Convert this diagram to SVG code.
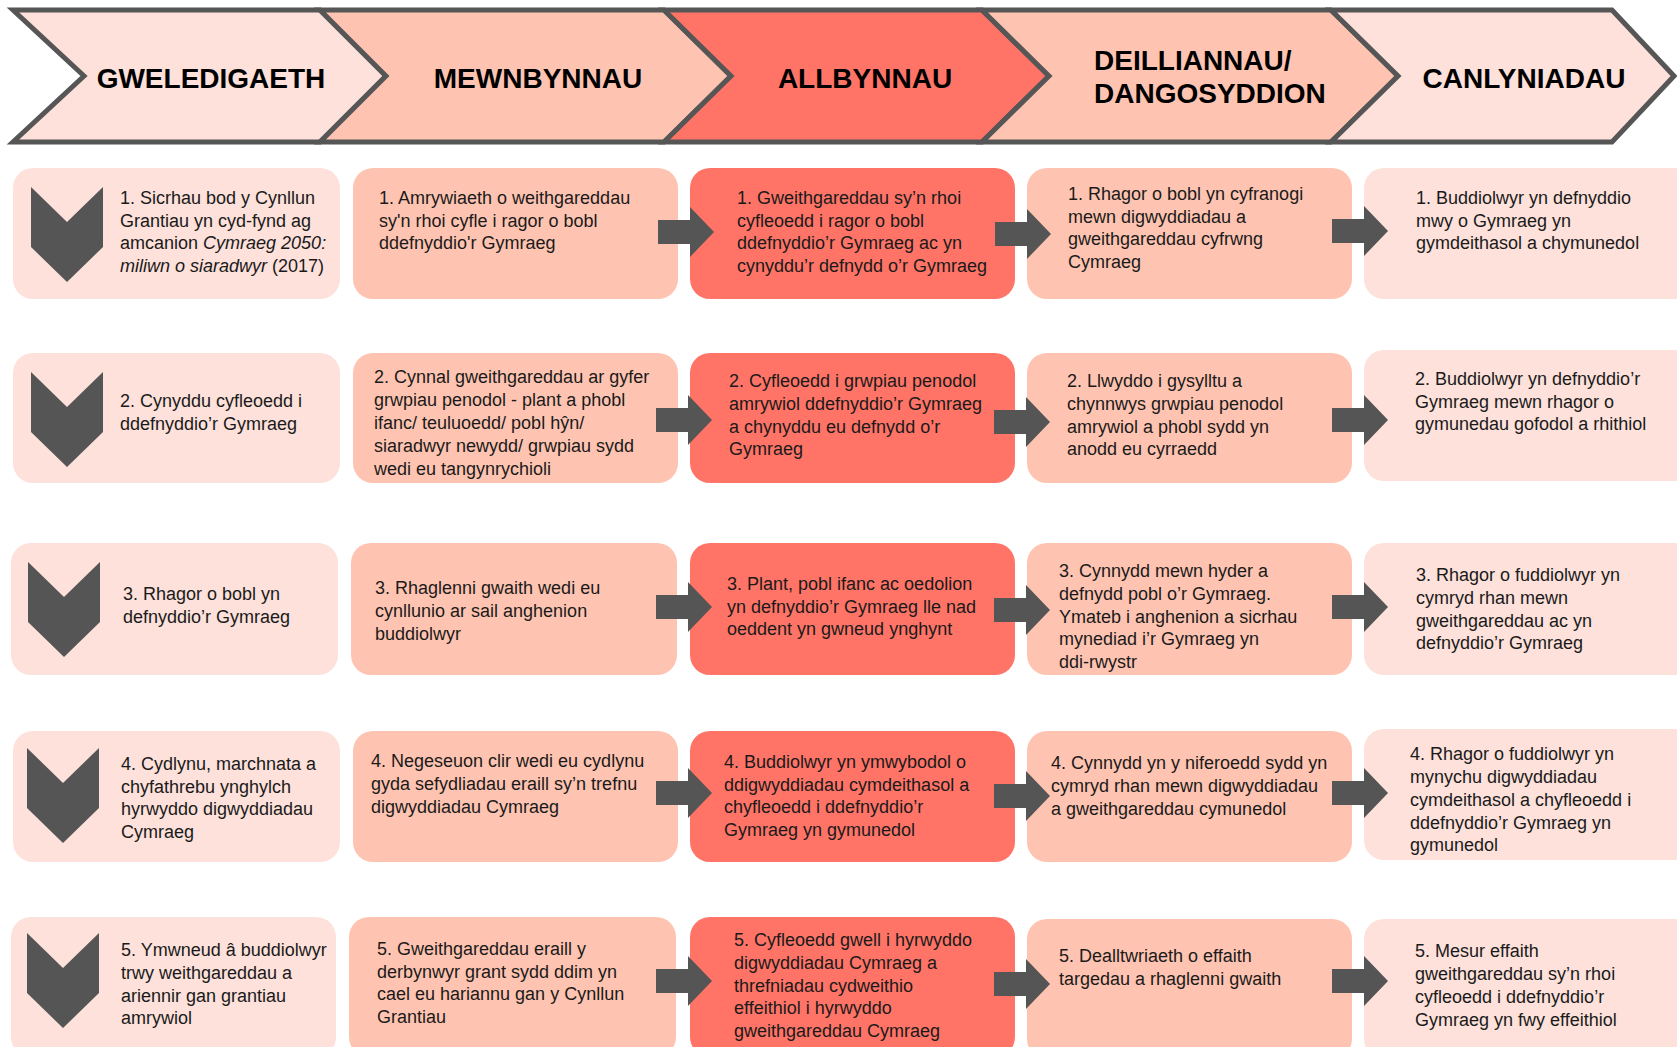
<svg xmlns="http://www.w3.org/2000/svg" width="1677" height="1047" viewBox="0 0 1677 1047">
<style>
.bg{fill:#ffffff}
.chev{stroke:#565656;stroke-width:5;stroke-linejoin:miter}
.p1{fill:#FDE1DA}
.p2{fill:#FFC4B1}
.p3{fill:#FF7467}
.h{font-family:"Liberation Sans",Arial,sans-serif;font-weight:bold;font-size:28px;fill:#000}
.t{font-family:"Liberation Sans",Arial,sans-serif;font-size:18px;fill:#1a1a1a}
.i{font-style:italic}
.ic{fill:#555555}
</style>
<defs>
<path id="arr" d="M0,-12 H32 V-25 L56,0 L32,25 V12 H0 Z"/>
<path id="down" d="M0,0 L36,35 L72,0 V60 L36,95 L0,60 Z"/>
</defs>
<rect class="bg" x="0" y="0" width="1677" height="1047"/>

<g id="header">
<g id="h-gweledigaeth">
<polygon class="chev p1" points="13,10 320,10 386,76 320,142 13,142 84,76"/>
<text class="h" x="211" y="88" text-anchor="middle">GWELEDIGAETH</text>
</g>
<g id="h-mewnbynnau">
<polygon class="chev p2" points="320,10 664,10 731,76 664,142 320,142 386,76"/>
<text class="h" x="538" y="88" text-anchor="middle">MEWNBYNNAU</text>
</g>
<g id="h-allbynnau">
<polygon class="chev p3" points="664,10 982,10 1049,76 982,142 664,142 731,76"/>
<text class="h" x="865" y="88" text-anchor="middle">ALLBYNNAU</text>
</g>
<g id="h-deilliannau">
<polygon class="chev p2" points="982,10 1331,10 1398,76 1331,142 982,142 1049,76"/>
<text class="h" x="1094" y="70">DEILLIANNAU/</text>
<text class="h" x="1094" y="103">DANGOSYDDION</text>
</g>
<g id="h-canlyniadau">
<polygon class="chev p1" points="1331,10 1612,10 1674,76 1612,142 1331,142 1398,76"/>
<text class="h" x="1524" y="88" text-anchor="middle">CANLYNIADAU</text>
</g>
</g>

<!-- Row 1 -->
<g id="r1c1">
<rect class="p1" x="13" y="168" width="327" height="131" rx="20"/>
<use href="#down" class="ic" x="31" y="187"/>
<text class="t"><tspan x="120" y="204">1. Sicrhau bod y Cynllun</tspan><tspan x="120" y="226.5">Grantiau yn cyd-fynd ag</tspan><tspan x="120" y="249">amcanion </tspan><tspan class="i">Cymraeg 2050:</tspan><tspan x="120" y="271.5" class="i">miliwn o siaradwyr</tspan><tspan> (2017)</tspan></text>
</g>
<g id="r1c2">
<rect class="p2" x="353" y="168" width="325" height="131" rx="20"/>
<text class="t"><tspan x="379" y="204">1. Amrywiaeth o weithgareddau</tspan><tspan x="379" y="226.5">sy'n rhoi cyfle i ragor o bobl</tspan><tspan x="379" y="249">ddefnyddio'r Gymraeg</tspan></text>
</g>
<g id="r1c3">
<rect class="p3" x="690" y="168" width="325" height="131" rx="20"/>
<text class="t"><tspan x="737" y="204">1. Gweithgareddau sy’n rhoi</tspan><tspan x="737" y="226.5">cyfleoedd i ragor o bobl</tspan><tspan x="737" y="249">ddefnyddio’r Gymraeg ac yn</tspan><tspan x="737" y="271.5">cynyddu’r defnydd o’r Gymraeg</tspan></text>
</g>
<g id="r1c4">
<rect class="p2" x="1027" y="168" width="325" height="131" rx="20"/>
<text class="t"><tspan x="1068" y="200">1. Rhagor o bobl yn cyfranogi</tspan><tspan x="1068" y="222.5">mewn digwyddiadau a</tspan><tspan x="1068" y="245">gweithgareddau cyfrwng</tspan><tspan x="1068" y="267.5">Cymraeg</tspan></text>
</g>
<g id="r1c5">
<rect class="p1" x="1364" y="168" width="330" height="131" rx="20"/>
<text class="t"><tspan x="1416" y="204">1. Buddiolwyr yn defnyddio</tspan><tspan x="1416" y="226.5">mwy o Gymraeg yn</tspan><tspan x="1416" y="249">gymdeithasol a chymunedol</tspan></text>
</g>

<!-- Row 2 -->
<g id="r2c1">
<rect class="p1" x="13" y="353" width="327" height="130" rx="20"/>
<use href="#down" class="ic" x="31" y="372"/>
<text class="t"><tspan x="120" y="407">2. Cynyddu cyfleoedd i</tspan><tspan x="120" y="429.5">ddefnyddio’r Gymraeg</tspan></text>
</g>
<g id="r2c2">
<rect class="p2" x="353" y="353" width="325" height="130" rx="20"/>
<text class="t"><tspan x="374" y="383">2. Cynnal gweithgareddau ar gyfer</tspan><tspan x="374" y="406">grwpiau penodol - plant a phobl</tspan><tspan x="374" y="429">ifanc/ teuluoedd/ pobl hŷn/</tspan><tspan x="374" y="452">siaradwyr newydd/ grwpiau sydd</tspan><tspan x="374" y="475">wedi eu tangynrychioli</tspan></text>
</g>
<g id="r2c3">
<rect class="p3" x="690" y="353" width="325" height="130" rx="20"/>
<text class="t"><tspan x="729" y="387">2. Cyfleoedd i grwpiau penodol</tspan><tspan x="729" y="410">amrywiol ddefnyddio’r Gymraeg</tspan><tspan x="729" y="432.5">a chynyddu eu defnydd o’r</tspan><tspan x="729" y="455">Gymraeg</tspan></text>
</g>
<g id="r2c4">
<rect class="p2" x="1027" y="353" width="325" height="130" rx="20"/>
<text class="t"><tspan x="1067" y="387">2. Llwyddo i gysylltu a</tspan><tspan x="1067" y="410">chynnwys grwpiau penodol</tspan><tspan x="1067" y="432.5">amrywiol a phobl sydd yn</tspan><tspan x="1067" y="455">anodd eu cyrraedd</tspan></text>
</g>
<g id="r2c5">
<rect class="p1" x="1364" y="350" width="330" height="131" rx="20"/>
<text class="t"><tspan x="1415" y="385">2. Buddiolwyr yn defnyddio’r</tspan><tspan x="1415" y="407.5">Gymraeg mewn rhagor o</tspan><tspan x="1415" y="430">gymunedau gofodol a rhithiol</tspan></text>
</g>

<!-- Row 3 -->
<g id="r3c1">
<rect class="p1" x="11" y="543" width="327" height="132" rx="20"/>
<use href="#down" class="ic" x="28" y="562"/>
<text class="t"><tspan x="123" y="600">3. Rhagor o bobl yn</tspan><tspan x="123" y="622.5">defnyddio’r Gymraeg</tspan></text>
</g>
<g id="r3c2">
<rect class="p2" x="351" y="543" width="326" height="132" rx="20"/>
<text class="t"><tspan x="375" y="594">3. Rhaglenni gwaith wedi eu</tspan><tspan x="375" y="617">cynllunio ar sail anghenion</tspan><tspan x="375" y="640">buddiolwyr</tspan></text>
</g>
<g id="r3c3">
<rect class="p3" x="690" y="543" width="325" height="132" rx="20"/>
<text class="t"><tspan x="727" y="590">3. Plant, pobl ifanc ac oedolion</tspan><tspan x="727" y="612.5">yn defnyddio’r Gymraeg lle nad</tspan><tspan x="727" y="635">oeddent yn gwneud ynghynt</tspan></text>
</g>
<g id="r3c4">
<rect class="p2" x="1027" y="543" width="325" height="132" rx="20"/>
<text class="t"><tspan x="1059" y="577">3. Cynnydd mewn hyder a</tspan><tspan x="1059" y="600">defnydd pobl o’r Gymraeg.</tspan><tspan x="1059" y="622.5">Ymateb i anghenion a sicrhau</tspan><tspan x="1059" y="645">mynediad i’r Gymraeg yn</tspan><tspan x="1059" y="668">ddi-rwystr</tspan></text>
</g>
<g id="r3c5">
<rect class="p1" x="1364" y="543" width="330" height="132" rx="20"/>
<text class="t"><tspan x="1416" y="581">3. Rhagor o fuddiolwyr yn</tspan><tspan x="1416" y="604">cymryd rhan mewn</tspan><tspan x="1416" y="626.5">gweithgareddau ac yn</tspan><tspan x="1416" y="649">defnyddio’r Gymraeg</tspan></text>
</g>

<!-- Row 4 -->
<g id="r4c1">
<rect class="p1" x="13" y="731" width="327" height="131" rx="20"/>
<use href="#down" class="ic" x="27" y="748"/>
<text class="t"><tspan x="121" y="770">4. Cydlynu, marchnata a</tspan><tspan x="121" y="792.5">chyfathrebu ynghylch</tspan><tspan x="121" y="815">hyrwyddo digwyddiadau</tspan><tspan x="121" y="837.5">Cymraeg</tspan></text>
</g>
<g id="r4c2">
<rect class="p2" x="353" y="731" width="325" height="131" rx="20"/>
<text class="t"><tspan x="371" y="767">4. Negeseuon clir wedi eu cydlynu</tspan><tspan x="371" y="790">gyda sefydliadau eraill sy’n trefnu</tspan><tspan x="371" y="812.5">digwyddiadau Cymraeg</tspan></text>
</g>
<g id="r4c3">
<rect class="p3" x="690" y="731" width="325" height="131" rx="20"/>
<text class="t"><tspan x="724" y="768">4. Buddiolwyr yn ymwybodol o</tspan><tspan x="724" y="790.5">ddigwyddiadau cymdeithasol a</tspan><tspan x="724" y="813">chyfleoedd i ddefnyddio’r</tspan><tspan x="724" y="835.5">Gymraeg yn gymunedol</tspan></text>
</g>
<g id="r4c4">
<rect class="p2" x="1027" y="731" width="325" height="131" rx="20"/>
<text class="t"><tspan x="1051" y="769">4. Cynnydd yn y niferoedd sydd yn</tspan><tspan x="1051" y="792">cymryd rhan mewn digwyddiadau</tspan><tspan x="1051" y="815">a gweithgareddau cymunedol</tspan></text>
</g>
<g id="r4c5">
<rect class="p1" x="1364" y="729" width="330" height="131" rx="20"/>
<text class="t"><tspan x="1410" y="760">4. Rhagor o fuddiolwyr yn</tspan><tspan x="1410" y="783">mynychu digwyddiadau</tspan><tspan x="1410" y="806">cymdeithasol a chyfleoedd i</tspan><tspan x="1410" y="828.5">ddefnyddio’r Gymraeg yn</tspan><tspan x="1410" y="851">gymunedol</tspan></text>
</g>

<!-- Row 5 -->
<g id="r5c1">
<rect class="p1" x="11" y="917" width="325" height="140" rx="20"/>
<use href="#down" class="ic" x="27" y="933"/>
<text class="t"><tspan x="121" y="956">5. Ymwneud â buddiolwyr</tspan><tspan x="121" y="979">trwy weithgareddau a</tspan><tspan x="121" y="1001.5">ariennir gan grantiau</tspan><tspan x="121" y="1024">amrywiol</tspan></text>
</g>
<g id="r5c2">
<rect class="p2" x="349" y="917" width="327" height="140" rx="20"/>
<text class="t"><tspan x="377" y="955">5. Gweithgareddau eraill y</tspan><tspan x="377" y="977.5">derbynwyr grant sydd ddim yn</tspan><tspan x="377" y="1000">cael eu hariannu gan y Cynllun</tspan><tspan x="377" y="1023">Grantiau</tspan></text>
</g>
<g id="r5c3">
<rect class="p3" x="690" y="917" width="325" height="140" rx="20"/>
<text class="t"><tspan x="734" y="946">5. Cyfleoedd gwell i hyrwyddo</tspan><tspan x="734" y="969">digwyddiadau Cymraeg a</tspan><tspan x="734" y="991.5">threfniadau cydweithio</tspan><tspan x="734" y="1014">effeithiol i hyrwyddo</tspan><tspan x="734" y="1037">gweithgareddau Cymraeg</tspan></text>
</g>
<g id="r5c4">
<rect class="p2" x="1027" y="919" width="325" height="140" rx="20"/>
<text class="t"><tspan x="1059" y="962">5. Dealltwriaeth o effaith</tspan><tspan x="1059" y="985">targedau a rhaglenni gwaith</tspan></text>
</g>
<g id="r5c5">
<rect class="p1" x="1364" y="919" width="330" height="140" rx="20"/>
<text class="t"><tspan x="1415" y="957">5. Mesur effaith</tspan><tspan x="1415" y="980">gweithgareddau sy’n rhoi</tspan><tspan x="1415" y="1003">cyfleoedd i ddefnyddio’r</tspan><tspan x="1415" y="1026">Gymraeg yn fwy effeithiol</tspan></text>
</g>

<g id="connectors" class="ic">
<use href="#arr" x="658" y="232"/>
<use href="#arr" x="995" y="234"/>
<use href="#arr" x="1332" y="231"/>
<use href="#arr" x="656" y="420"/>
<use href="#arr" x="994" y="422"/>
<use href="#arr" x="1332" y="420"/>
<use href="#arr" x="656" y="607"/>
<use href="#arr" x="994" y="610"/>
<use href="#arr" x="1332" y="607"/>
<use href="#arr" x="656" y="793"/>
<use href="#arr" x="994" y="796"/>
<use href="#arr" x="1332" y="793"/>
<use href="#arr" x="656" y="981"/>
<use href="#arr" x="994" y="984"/>
<use href="#arr" x="1332" y="981"/>
</g>
</svg>
